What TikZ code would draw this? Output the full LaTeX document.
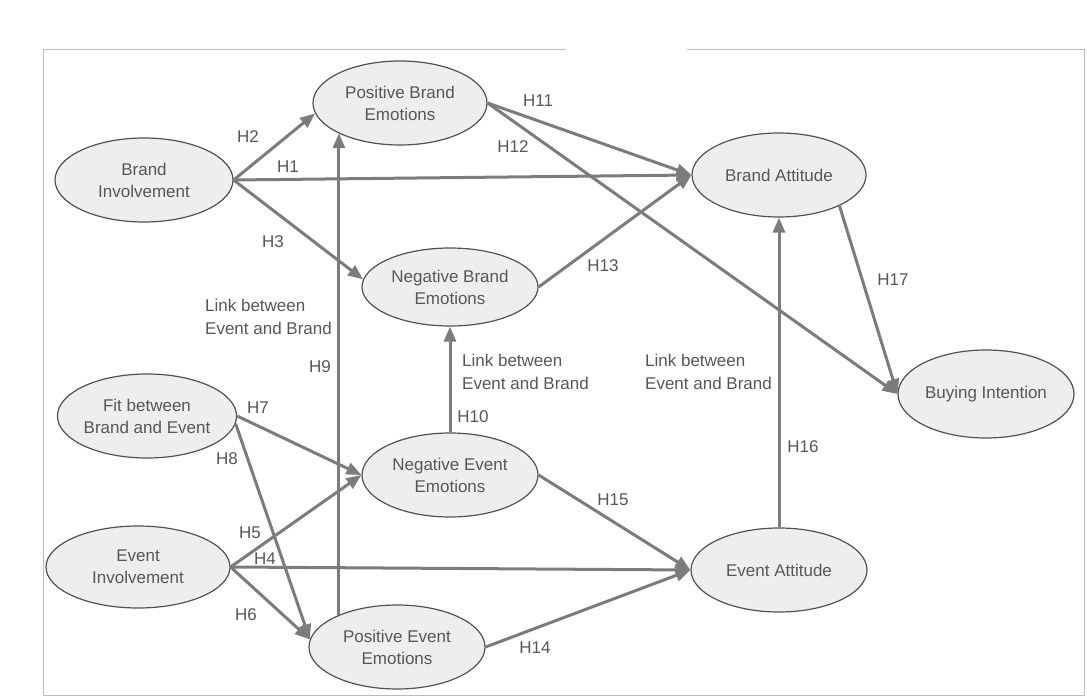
\documentclass[tikz,border=0pt]{standalone}
\usepackage{fontspec}
\setmainfont{Liberation Sans}
\usetikzlibrary{shapes.geometric,arrows.meta}
\definecolor{txt}{HTML}{575757}
\definecolor{edgec}{HTML}{7C7C7C}
\definecolor{bord}{HTML}{525252}
\definecolor{efill}{HTML}{EEEEEE}
\definecolor{framec}{HTML}{BBBBBB}
\begin{document}
\begin{tikzpicture}[x=1pt,y=-1pt,
  ell/.style={ellipse,draw=bord,line width=1.2pt,fill=efill,inner sep=0pt,align=center,text=txt,font=\fontsize{17}{22}\selectfont},
  arr/.style={draw=edgec,line width=3pt,-{Triangle[length=15pt,width=12pt]}},
  lab/.style={text=txt,font=\fontsize{17}{23}\selectfont,inner sep=0pt},
  framel/.style={draw=framec,line width=1pt}]
\useasboundingbox (0,0) rectangle (1087,698);
\fill[white] (0,0) rectangle (1087,698);
% frame
\draw[framel] (43,695) -- (43,50) -- (566,50);
\draw[framel] (687,50) -- (1084,50) -- (1084,695) -- (43,695);
% nodes
\node[ell,minimum width=174pt,minimum height=84pt] (PB) at (400,103) {Positive Brand\\Emotions};
\node[ell,minimum width=178pt,minimum height=84pt] (BI) at (144,180) {Brand\\Involvement};
\node[ell,minimum width=176pt,minimum height=78pt] (NB) at (450,287) {Negative Brand\\Emotions};
\node[ell,minimum width=178pt,minimum height=84pt] (FIT) at (147,416) {Fit between\\Brand and Event};
\node[ell,minimum width=184pt,minimum height=82pt] (EI) at (138,567) {Event\\Involvement};
\node[ell,minimum width=176pt,minimum height=84pt] (NE) at (450,475) {Negative Event\\Emotions};
\node[ell,minimum width=176pt,minimum height=84pt] (PE) at (397,647) {Positive Event\\Emotions};
\node[ell,minimum width=174pt,minimum height=84pt] (BA) at (779,175) {Brand Attitude};
\node[ell,minimum width=176pt,minimum height=88pt] (BUY) at (986,394) {Buying Intention};
\node[ell,minimum width=176pt,minimum height=84pt] (EA) at (779,570) {Event Attitude};
% connectors
\draw[arr] (BI.east) -- (BA.west);
\draw[arr] (BI.east) -- (PB.187);
\draw[arr] (BI.east) -- (NB.175);
\draw[arr] (EI.east) -- (EA.west);
\draw[arr] (EI.east) -- (NE.west);
\draw[arr] (EI.east) -- (PE.175);
\draw[arr] (FIT.east) -- (NE.west);
\draw[arr] (FIT.-5) -- (PE.175);
\draw[arr] (PE.151.4) -- (PE.151.4 |- PB.206.2);
\draw[arr] (NE.north) -- (NB.south);
\draw[arr] (PB.east) -- (BA.west);
\draw[arr] (PB.east) -- (BUY.west);
\draw[arr] (NB.east) -- (BA.west);
\draw[arr] (PE.east) -- (EA.west);
\draw[arr] (NE.east) -- (EA.west);
\draw[arr] (EA.north) -- (BA.south);
\draw[arr] (BA.-27) -- (BUY.west);
% labels
\node[lab] (h1) at (288,167) {H1};
\node[lab] (h2) at (248,137) {H2};
\node[lab] (h3) at (273,242) {H3};
\node[lab] (h4) at (265,559) {H4};
\node[lab] (h5) at (250,533) {H5};
\node[lab] (h6) at (246,615) {H6};
\node[lab] (h7) at (258,408) {H7};
\node[lab] (h8) at (227,459) {H8};
\node[lab] (h9) at (320,367) {H9};
\node[lab] (h10) at (473,417) {H10};
\node[lab] (h11) at (538,101) {H11};
\node[lab] (h12) at (513,147) {H12};
\node[lab] (h13) at (603,266) {H13};
\node[lab] (h14) at (535,648) {H14};
\node[lab] (h15) at (613,500) {H15};
\node[lab] (h16) at (803,447) {H16};
\node[lab] (h17) at (893,280) {H17};
\node[lab,align=left,anchor=west] (l1) at (205,317) {Link between\\Event and Brand};
\node[lab,align=left,anchor=west] (l2) at (462,372) {Link between\\Event and Brand};
\node[lab,align=left,anchor=west] (l3) at (645,372) {Link between\\Event and Brand};
\end{tikzpicture}
\end{document}
